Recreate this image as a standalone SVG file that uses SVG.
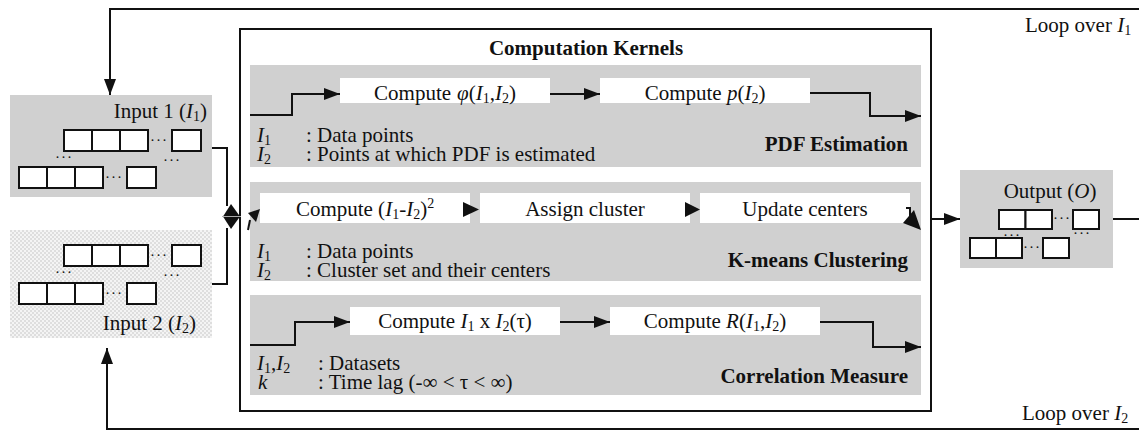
<svg xmlns="http://www.w3.org/2000/svg" width="1139" height="431" viewBox="0 0 1139 431">
<defs>
<style>
.t{font-family:"Liberation Serif","Times New Roman",serif;font-size:21px;fill:#111}
.b{font-weight:bold}
.i{font-style:italic}
.sub{font-size:14px}
.d{font-family:"Liberation Serif","Times New Roman",serif;font-size:15px;fill:#111;letter-spacing:1px}
.panel{fill:#d0d0d0}
.wbox{fill:#fff}
.cell{fill:#fff;stroke:#111;stroke-width:2}
.ln{fill:none;stroke:#111;stroke-width:2}
.ah{fill:#111}
</style>
<marker id="arr" viewBox="0 0 16 12" refX="16" refY="6" markerWidth="16" markerHeight="12" markerUnits="userSpaceOnUse" orient="auto">
<path d="M0,0 L16,6 L0,12 Z" fill="#111"/>
</marker>
<pattern id="chk" width="4" height="4" patternUnits="userSpaceOnUse">
<rect width="4" height="4" fill="#f4f4f4"/>
<rect width="2" height="2" fill="#dedede"/>
<rect x="2" y="2" width="2" height="2" fill="#dedede"/>
</pattern>
</defs>
<rect width="1139" height="431" fill="#fff"/>

<g id="kernels">
<rect x="240" y="29" width="691" height="382" fill="#fff" stroke="#111" stroke-width="2"/>
<text class="t b" x="586" y="55" text-anchor="middle">Computation Kernels</text>
</g>

<g id="pdf">
<rect class="panel" x="250" y="65" width="671" height="102"/>
<rect class="wbox" x="340" y="78" width="210" height="25"/>
<rect class="wbox" x="600" y="78" width="210" height="25"/>
<text class="t" x="445" y="100" text-anchor="middle">Compute<tspan class="i" dx="6">φ</tspan>(<tspan class="i">I</tspan><tspan class="sub" dy="3">1</tspan><tspan dy="-3">,</tspan><tspan class="i">I</tspan><tspan class="sub" dy="3">2</tspan><tspan dy="-3">)</tspan></text>
<text class="t" x="705" y="100" text-anchor="middle">Compute <tspan class="i">p</tspan>(<tspan class="i">I</tspan><tspan class="sub" dy="3">2</tspan><tspan dy="-3">)</tspan></text>
<text class="t"><tspan class="i" x="257" y="142">I</tspan><tspan class="sub" dy="3">1</tspan><tspan x="306" y="142">: Data points</tspan><tspan class="i" x="257" y="161">I</tspan><tspan class="sub" dy="3">2</tspan><tspan x="306" y="161">: Points at which PDF is estimated</tspan></text>
<text class="t b" x="908" y="151" text-anchor="end">PDF Estimation</text>
</g>

<g id="kmeans">
<rect class="panel" x="250" y="182" width="671" height="99"/>
<rect class="wbox" x="260" y="193" width="210" height="30"/>
<rect class="wbox" x="480" y="193" width="210" height="30"/>
<rect class="wbox" x="700" y="193" width="210" height="30"/>
<text class="t" x="365" y="216" text-anchor="middle">Compute (<tspan class="i">I</tspan><tspan class="sub" dy="3">1</tspan><tspan dy="-3">-</tspan><tspan class="i">I</tspan><tspan class="sub" dy="3">2</tspan><tspan dy="-3">)</tspan><tspan class="sub" dy="-8">2</tspan></text>
<text class="t" x="585" y="216" text-anchor="middle">Assign cluster</text>
<text class="t" x="805" y="216" text-anchor="middle">Update centers</text>
<text class="t"><tspan class="i" x="257" y="258">I</tspan><tspan class="sub" dy="3">1</tspan><tspan x="306" y="258">: Data points</tspan><tspan class="i" x="257" y="277">I</tspan><tspan class="sub" dy="3">2</tspan><tspan x="306" y="277">: Cluster set and their centers</tspan></text>
<text class="t b" x="908" y="267" text-anchor="end">K-means Clustering</text>
</g>

<g id="correlation">
<rect class="panel" x="250" y="295" width="671" height="100"/>
<rect class="wbox" x="350" y="307" width="210" height="28"/>
<rect class="wbox" x="610" y="307" width="210" height="28"/>
<text class="t" x="455" y="328" text-anchor="middle">Compute <tspan class="i">I</tspan><tspan class="sub" dy="3">1</tspan><tspan dy="-3"> x </tspan><tspan class="i">I</tspan><tspan class="sub" dy="3">2</tspan><tspan dy="-3">(τ)</tspan></text>
<text class="t" x="715" y="328" text-anchor="middle">Compute <tspan class="i">R</tspan>(<tspan class="i">I</tspan><tspan class="sub" dy="3">1</tspan><tspan dy="-3">,</tspan><tspan class="i">I</tspan><tspan class="sub" dy="3">2</tspan><tspan dy="-3">)</tspan></text>
<text class="t"><tspan class="i" x="257" y="370">I</tspan><tspan class="sub" dy="3">1</tspan><tspan dy="-3">,</tspan><tspan class="i">I</tspan><tspan class="sub" dy="3">2</tspan><tspan x="318" y="370">: Datasets</tspan><tspan class="i" x="258" y="389">k</tspan><tspan x="318" y="389">: Time lag (-∞ &lt; τ &lt; ∞)</tspan></text>
<text class="t b" x="908" y="383" text-anchor="end">Correlation Measure</text>
</g>

<g id="input1">
<rect class="panel" x="10" y="95" width="202" height="102"/>
<text class="t" x="207" y="118" text-anchor="end">Input 1 (<tspan class="i">I</tspan><tspan class="sub" dy="3">1</tspan><tspan dy="-3">)</tspan></text>
<rect class="cell" x="64" y="130" width="28" height="21"/>
<rect class="cell" x="92" y="130" width="28" height="21"/>
<rect class="cell" x="120" y="130" width="28" height="21"/>
<text class="d" x="150" y="145">···</text>
<rect class="cell" x="172" y="130" width="29" height="21"/>
<text class="d" x="55" y="162">···</text>
<text class="d" x="163" y="165">···</text>
<rect class="cell" x="19" y="167" width="28" height="21"/>
<rect class="cell" x="47" y="167" width="28" height="21"/>
<rect class="cell" x="75" y="167" width="28" height="21"/>
<text class="d" x="105" y="182">···</text>
<rect class="cell" x="127" y="167" width="29" height="21"/>
</g>

<g id="input2">
<rect x="10" y="230" width="202" height="108" fill="url(#chk)"/>
<rect class="cell" x="64" y="245" width="28" height="21"/>
<rect class="cell" x="92" y="245" width="28" height="21"/>
<rect class="cell" x="120" y="245" width="28" height="21"/>
<text class="d" x="150" y="260">···</text>
<rect class="cell" x="172" y="245" width="29" height="21"/>
<text class="d" x="55" y="277">···</text>
<text class="d" x="163" y="280">···</text>
<rect class="cell" x="19" y="283" width="28" height="21"/>
<rect class="cell" x="47" y="283" width="28" height="21"/>
<rect class="cell" x="75" y="283" width="28" height="21"/>
<text class="d" x="105" y="298">···</text>
<rect class="cell" x="127" y="283" width="29" height="21"/>
<text class="t" x="196" y="330" text-anchor="end">Input 2 (<tspan class="i">I</tspan><tspan class="sub" dy="3">2</tspan><tspan dy="-3">)</tspan></text>
</g>

<g id="output">
<rect class="panel" x="960" y="170" width="153" height="98"/>
<text class="t" x="1050" y="198" text-anchor="middle">Output (<tspan class="i">O</tspan>)</text>
<rect class="cell" x="999" y="210" width="26.5" height="19"/>
<rect class="cell" x="1025.5" y="210" width="26.5" height="19"/>
<text class="d" x="1053" y="223">···</text>
<rect class="cell" x="1073" y="210" width="26" height="19"/>
<text class="d" x="1003" y="240">···</text>
<text class="d" x="1073" y="238">···</text>
<rect class="cell" x="970" y="238" width="26" height="20"/>
<rect class="cell" x="996" y="238" width="26" height="20"/>
<text class="d" x="1023" y="252">···</text>
<rect class="cell" x="1043" y="238" width="26" height="20"/>
</g>

<g id="loop-labels">
<text class="t" x="1025" y="32">Loop over <tspan class="i">I</tspan><tspan class="sub" dy="3">1</tspan></text>
<text class="t" x="1022" y="420">Loop over <tspan class="i">I</tspan><tspan class="sub" dy="3">2</tspan></text>
</g>

<g id="connectors">
<path class="ln" d="M1139,9 H110 V95" marker-end="url(#arr)"/>
<path class="ln" d="M1139,429 H107 V348" marker-end="url(#arr)"/>
<path class="ln" d="M212,148 H227 V206"/>
<path class="ln" d="M212,284 H227 V228"/>
<polygon class="ah" points="231,204 240,216.5 231,229 223,216.5"/>
<line x1="222" y1="216.5" x2="241" y2="216.5" stroke="#aaa" stroke-width="1"/>
<path class="ln" d="M250,115 H292 V94 H340" marker-end="url(#arr)"/>
<path class="ln" d="M550,94 H600" marker-end="url(#arr)"/>
<path class="ln" d="M810,93 H870 V116 H921" marker-end="url(#arr)"/>
<path class="ln" d="M248,230 L250,220"/>
<polygon class="ah" points="260,209 248,213 256,222"/>
<polygon class="ah" points="463,202 479,209.5 463,217"/>
<polygon class="ah" points="685,202 700,209.5 685,217"/>
<path class="ln" d="M906,208 H910 V218"/>
<polygon class="ah" points="921,230 903,223 914,210"/>
<path class="ln" d="M250,345 H295 V322 H350" marker-end="url(#arr)"/>
<path class="ln" d="M560,322 H610" marker-end="url(#arr)"/>
<path class="ln" d="M820,322 H873 V347 H921" marker-end="url(#arr)"/>
<path class="ln" d="M931,219 H960" marker-end="url(#arr)"/>
<path class="ln" d="M1113,219 H1139"/>
</g>
</svg>
